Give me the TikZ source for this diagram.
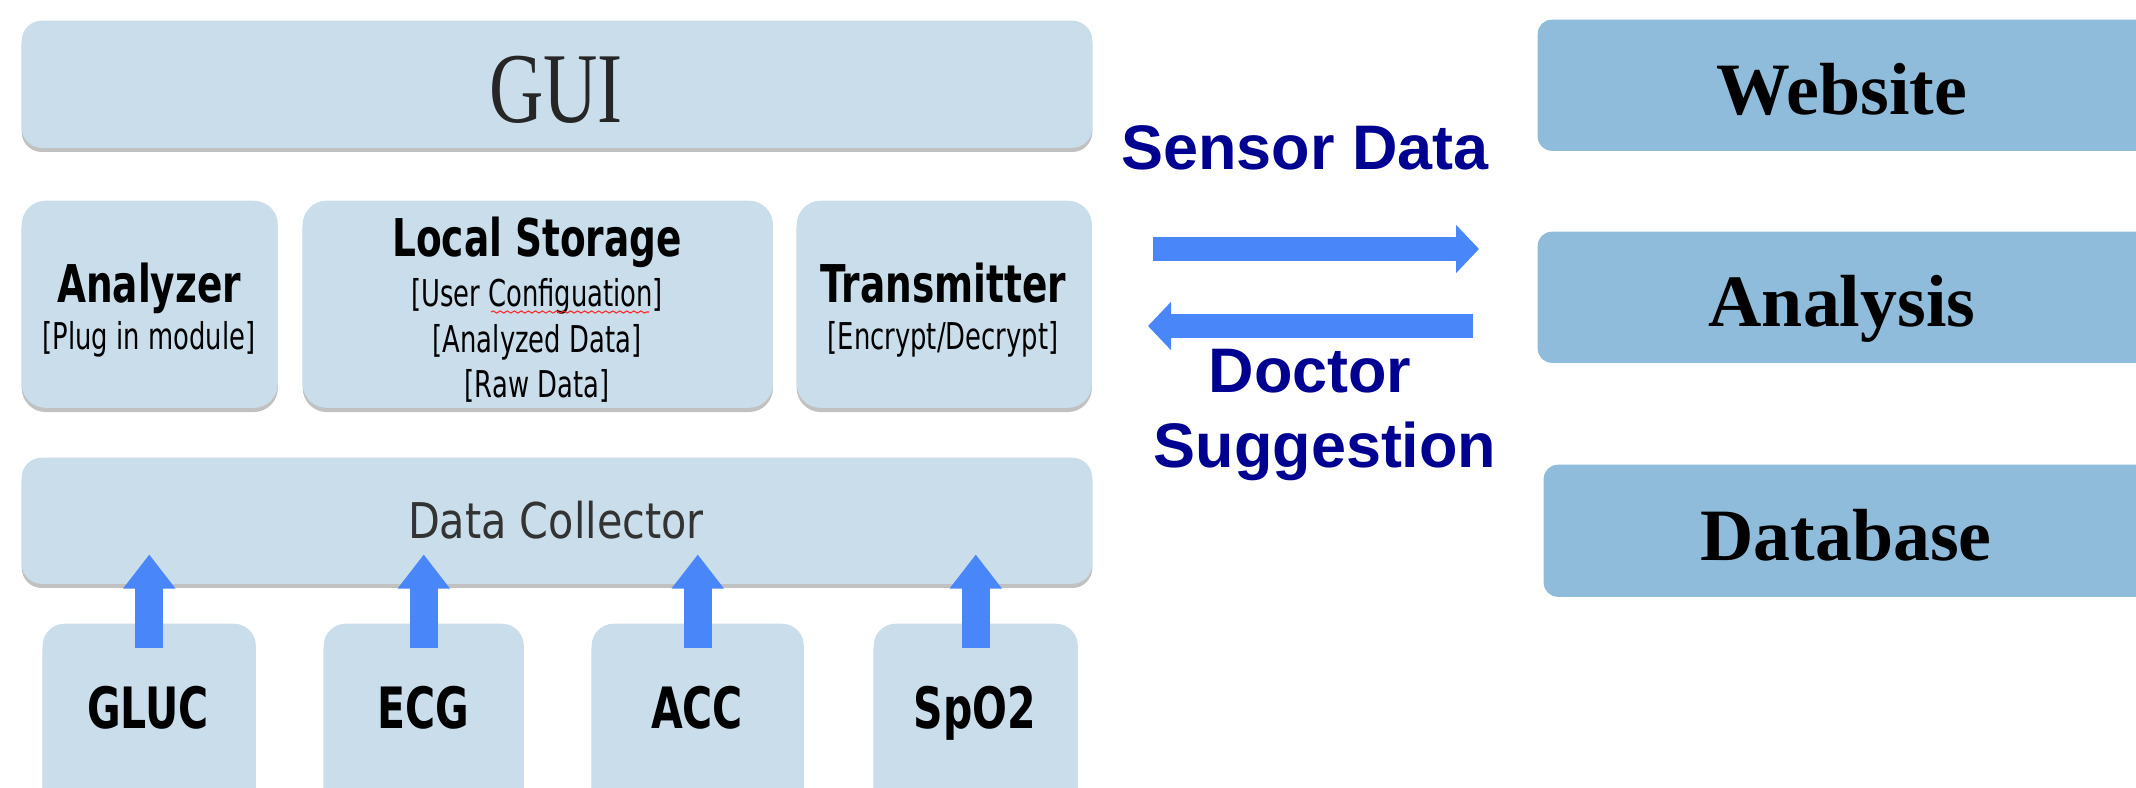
\documentclass[tikz,border=0pt]{standalone}
\usepackage{fontspec}
\usepackage{xcolor}
\usetikzlibrary{arrows.meta, calc, shadows, decorations.pathmorphing}

\setmainfont{Liberation Serif}
\newfontfamily\headfont[FakeStretch=0.72]{DejaVu Sans}
\newfontfamily\notefont[FakeStretch=0.7]{DejaVu Sans}
\newfontfamily\collfont[FakeStretch=0.84]{DejaVu Sans}
\newfontfamily\guifont[FakeStretch=0.75]{Liberation Serif}
\newfontfamily\linkfont{Liberation Sans}

\definecolor{panelblue}{RGB}{202,221,235}
\definecolor{serverblue}{RGB}{143,188,218}
\definecolor{arrowblue}{RGB}{72,134,250}
\definecolor{navytext}{RGB}{0,0,145}

\tikzset{
  panel/.style={fill=panelblue, draw=none, inner sep=0pt, anchor=north west,
    rounded corners=0.2cm,
    drop shadow={shadow xshift=0pt, shadow yshift=-1.2pt, opacity=0.35, fill=black!70}},
  server/.style={fill=serverblue, draw=none, inner sep=0pt, anchor=north west,
    rounded corners=0.14cm},
  guitext/.style={font=\guifont\fontsize{28.5pt}{30pt}\selectfont, text=black!85, inner sep=0pt, anchor=base},
  headtext/.style={font=\headfont\bfseries\fontsize{14.8pt}{17pt}\selectfont, inner sep=0pt, anchor=base},
  notetext/.style={font=\notefont\fontsize{10.5pt}{12.8pt}\selectfont, inner sep=0pt, anchor=base},
  colltext/.style={font=\collfont\fontsize{14pt}{16pt}\selectfont, text=black!80, inner sep=0pt, anchor=base},
  sensortext/.style={font=\headfont\bfseries\fontsize{16.2pt}{18pt}\selectfont, inner sep=0pt, anchor=base},
  linktext/.style={font=\linkfont\bfseries\fontsize{17.9pt}{20pt}\selectfont, text=navytext, inner sep=0pt, anchor=base},
  servertext/.style={font=\bfseries\fontsize{21pt}{24pt}\selectfont, inner sep=0pt, anchor=base},
  uparrow/.style={draw=arrowblue, line width=0.28cm, -{Triangle[width=0.5cm,length=0.34cm]}},
  sidearrow/.style={draw=arrowblue, line width=0.235cm, -{Triangle[width=0.47cm,length=0.23cm]}}
}

\begin{document}
\begin{tikzpicture}[x=0.01cm, y=-0.01cm]
    \useasboundingbox (0,0) rectangle (2136,788);
    \clip (0,0) rectangle (2136,788);

    % Phone side: layers of the app
    \node[panel, minimum width=10.70cm, minimum height=1.27cm] (gui) at (21,20) {};
    \node[panel, minimum width=2.56cm, minimum height=2.07cm, rounded corners=0.24cm] (analyzer) at (21,200) {};
    \node[panel, minimum width=4.70cm, minimum height=2.07cm, rounded corners=0.24cm] (storage) at (302,200) {};
    \node[panel, minimum width=2.95cm, minimum height=2.07cm, rounded corners=0.24cm] (transmitter) at (796,200) {};
    \node[panel, minimum width=10.70cm, minimum height=1.26cm] (collector) at (21,457) {};

    % Sensors (cut off at the bottom)
    \node[panel, minimum width=2.13cm, minimum height=1.90cm, rounded corners=0.22cm] (gluc) at (42,623) {};
    \node[panel, minimum width=2.00cm, minimum height=1.90cm, rounded corners=0.22cm] (ecg) at (323,623) {};
    \node[panel, minimum width=2.12cm, minimum height=1.90cm, rounded corners=0.22cm] (acc) at (591,623) {};
    \node[panel, minimum width=2.04cm, minimum height=1.90cm, rounded corners=0.22cm] (spo) at (873,623) {};

    % Server side (cut off at the right)
    \node[server, minimum width=6.20cm, minimum height=1.31cm] (website) at (1537,19) {};
    \node[server, minimum width=6.20cm, minimum height=1.31cm] (analysis) at (1537,231) {};
    \node[server, minimum width=6.20cm, minimum height=1.32cm] (database) at (1543,464) {};

    % Labels of the layers
    \node[guitext] (guilabel) at (556,123) {GUI};
    \node[headtext] (analyzerlabel) at (149,303) {Analyzer};
    \node[notetext] (analyzernote) at (149,350) {[Plug in module]};
    \node[headtext] (storagelabel) at (537,257) {Local Storage};
    \node[notetext] (storagenote1) at (537,307) {[User Configuation]};
    \node[notetext] (storagenote2) at (537,352) {[Analyzed Data]};
    \node[notetext] (storagenote3) at (537,397) {[Raw Data]};
    \node[headtext] (transmitterlabel) at (943,303) {Transmitter};
    \node[notetext] (transmitternote) at (943,350) {[Encrypt/Decrypt]};
    \node[colltext] (collectorlabel) at (556,538) {Data Collector};

    % spell-check squiggle
    \draw[red!85, line width=0.3pt, decorate, decoration={snake, amplitude=0.3pt, segment length=2pt}]
        (491,312) -- (649,312);

    % Labels of the sensors
    \node[sensortext] (gluclabel) at (148,728) {GLUC};
    \node[sensortext] (ecglabel) at (423,728) {ECG};
    \node[sensortext] (acclabel) at (697,728) {ACC};
    \node[sensortext] (spolabel) at (975,728) {SpO2};

    % Sensors feed the collector
    \foreach \s in {gluc, ecg, acc, spo}
        \draw[uparrow] ($(\s.north)+(0,25)$) -- ($(\s.north |- collector.south)+(0,-30)$);

    % Link between phone and server
    \coordinate (sendfrom) at (1153,249);
    \coordinate (sendto) at (1479,249);
    \coordinate (backfrom) at (1473,326);
    \coordinate (backto) at (1148,326);
    \draw[sidearrow] (sendfrom) -- (sendto);
    \draw[sidearrow] (backfrom) -- (backto);

    \node[linktext] (sendlabel) at (1305,170) {Sensor Data};
    \node[linktext] (backlabel1) at (1310,392) {Doctor};
    \node[linktext] (backlabel2) at (1325,467) {Suggestion};

    % Labels of the server boxes
    \node[servertext] (websitelabel) at (1842,115) {Website};
    \node[servertext] (analysislabel) at (1842,327) {Analysis};
    \node[servertext] (databaselabel) at (1846,560) {Database};
\end{tikzpicture}
\end{document}
